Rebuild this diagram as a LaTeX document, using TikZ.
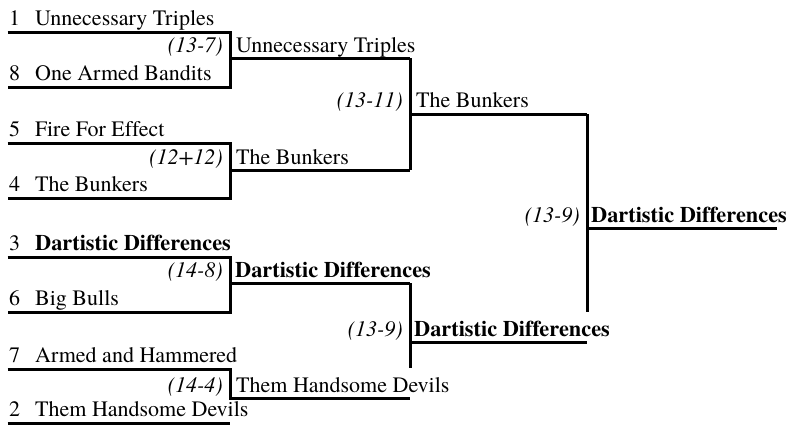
\documentclass[tikz,border=0pt]{standalone}
\usepackage{fontspec}
\setmainfont{TeX Gyre Termes}[Ligatures=NoCommon]
\begin{document}
\begin{tikzpicture}[x=1bp,y=-1bp,
  brk/.style={line width=3bp, line join=miter, line cap=butt},
  tname/.style={inner sep=0pt, anchor=base west, font=\fontsize{22bp}{26bp}\selectfont},
  seed/.style={inner sep=0pt, anchor=base west, font=\fontsize{22bp}{26bp}\selectfont},
  score/.style={inner sep=0pt, anchor=base east, font=\fontsize{22bp}{26bp}\selectfont\itshape},
  champ/.style={tname, font=\fontsize{22.3bp}{26bp}\selectfont\bfseries}]
\useasboundingbox (0,0) rectangle (790,425);
% ---------- coordinates ----------
% round 1 lines
\coordinate (l1a) at (7.5,32);  \coordinate (l1b) at (230,32);
\coordinate (l8a) at (7.5,87);  \coordinate (l8b) at (230,87);
\coordinate (l5a) at (7.5,143); \coordinate (l5b) at (230,143);
\coordinate (l4a) at (7.5,198); \coordinate (l4b) at (230,198);
\coordinate (l3a) at (7.5,257); \coordinate (l3b) at (230,257);
\coordinate (l6a) at (7.5,312); \coordinate (l6b) at (230,312);
\coordinate (l7a) at (7.5,369); \coordinate (l7b) at (230,369);
\coordinate (l2a) at (7.5,423); \coordinate (l2b) at (230,423);
% round 2 lines
\coordinate (w1a) at (230,58);  \coordinate (w1b) at (410,58);
\coordinate (w2a) at (230,170); \coordinate (w2b) at (410,170);
\coordinate (w3a) at (230,283); \coordinate (w3b) at (410,283);
\coordinate (w4a) at (230,398); \coordinate (w4b) at (410,398);
% round 3 lines
\coordinate (s1a) at (410,114); \coordinate (s1b) at (587,114);
\coordinate (s2a) at (410,342); \coordinate (s2b) at (587,342);
\coordinate (s2c) at (410,368);
% final
\coordinate (fa) at (587,228);  \coordinate (fb) at (777,228);
\coordinate (fc) at (587,312);
% ---------- lines ----------
\draw[brk] (l1a) -- (l1b) -- (l8b) -- (l8a);
\draw[brk] (w1a) -- (w1b);
\draw[brk] (l5a) -- (l5b) -- (l4b) -- (l4a);
\draw[brk] (w2a) -- (w2b);
\draw[brk] (l3a) -- (l3b) -- (l6b) -- (l6a);
\draw[brk] (w3a) -- (w3b);
\draw[brk] (l7a) -- (l7b) -- (w4a) -- (w4b);
\draw[brk] (l2a) -- (l2b);
\draw[brk] (w1b) -- (w2b);
\draw[brk] (s1a) -- (s1b);
\draw[brk] (w3b) -- (s2c);
\draw[brk] (s2a) -- (s2b);
\draw[brk] (s1b) -- (fc);
\draw[brk] (fa) -- (fb);
% ---------- round 1 texts ----------
\node[seed] (n1) at (9,25) {1};   \node[tname] (t1) at (35,25) {Unnecessary Triples};
\node[seed] (n8) at (9,80) {8};   \node[tname] (t8) at (35,80) {One Armed Bandits};
\node[seed] (n5) at (9,136) {5};  \node[tname] (t5) at (35,136) {Fire For Effect};
\node[seed] (n4) at (9,191) {4};  \node[tname] (t4) at (35,191) {The Bunkers};
\node[seed] (n3) at (9,250) {3};  \node[champ] (t3) at (35,250) {Dartistic Differences};
\node[seed] (n6) at (9,305) {6};  \node[tname] (t6) at (35,305) {Big Bulls};
\node[seed] (n7) at (9,362) {7};  \node[tname] (t7) at (35,362) {Armed and Hammered};
\node[seed] (n2) at (9,416) {2};  \node[tname] (t2) at (35,416) {Them Handsome Devils};
% ---------- round 2 texts ----------
\node[score] (c1) at (223,52) {(13-7)};  \node[tname] (r1) at (236,52) {Unnecessary Triples};
\node[score] (c2) at (223,164) {(12+12)}; \node[tname] (r2) at (236,164) {The Bunkers};
\node[score] (c3) at (223,277) {(14-8)};  \node[champ] (r3) at (235,277) {Dartistic Differences};
\node[score] (c4) at (223,392) {(14-4)};  \node[tname] (r4) at (236,392) {Them Handsome Devils};
% ---------- round 3 texts ----------
\node[score] (c5) at (403,107) {(13-11)}; \node[tname] (q1) at (416,107) {The Bunkers};
\node[score] (c6) at (403,336) {(13-9)};  \node[champ] (q2) at (414,336) {Dartistic Differences};
% ---------- final ----------
\node[score] (c7) at (580,222) {(13-9)};  \node[champ] (fw) at (591,222) {Dartistic Differences};
\end{tikzpicture}
\end{document}
